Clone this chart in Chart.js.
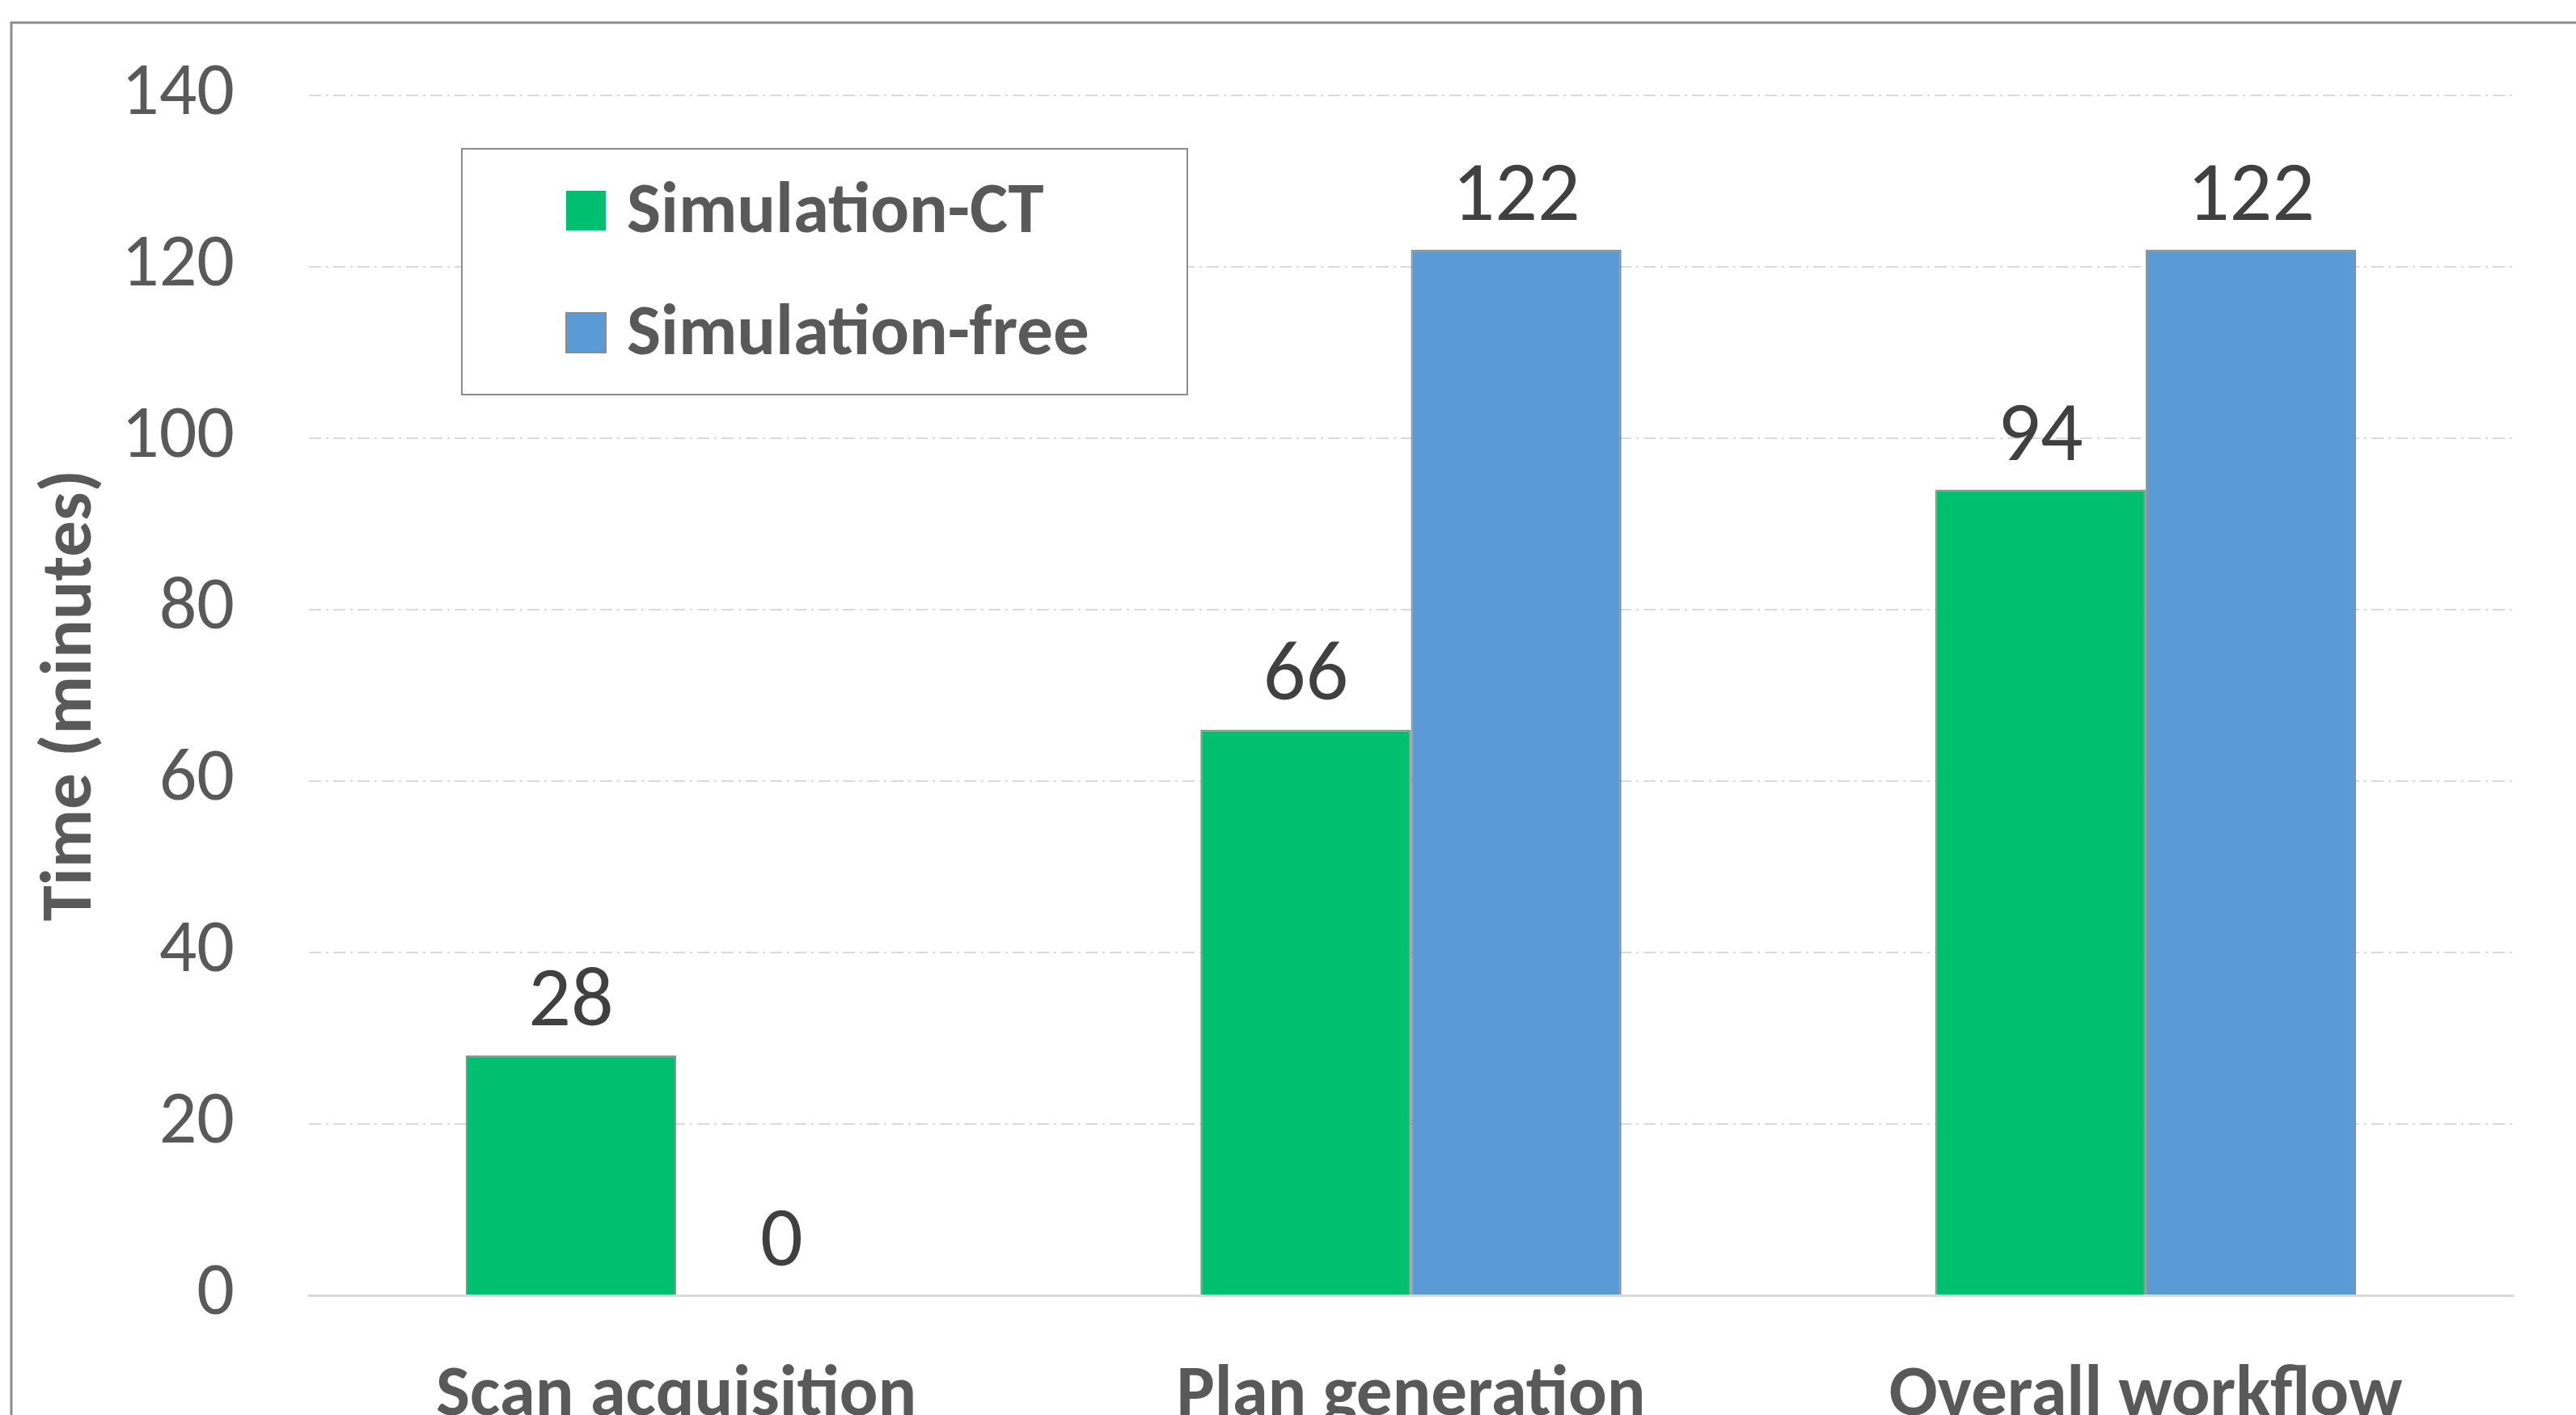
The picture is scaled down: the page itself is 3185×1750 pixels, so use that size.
<!DOCTYPE html>
<html>
<head>
<meta charset="utf-8">
<script src="https://cdn.jsdelivr.net/npm/chart.js@4.4.0/dist/chart.umd.min.js"></script>
<style>
  html, body { margin: 0; padding: 0; background: #fff; overflow: hidden; }
  #wrap { width: 3185px; height: 1750px; position: relative; }
</style>
</head>
<body>
<div id="wrap"><canvas id="myBarChart"></canvas></div>
<script>
// data
var categories = ['Scan acquisition', 'Plan generation', 'Overall workflow'];
var seriesNames = ['Simulation-CT', 'Simulation-free'];
var simCT = [28, 66, 94];
var simFree = [0, 122, 122];
var yTicks = [0, 20, 40, 60, 80, 100, 120, 140];
var yTitle = 'Time (minutes)';

var FONT = 'Carlito, Lato, sans-serif';
var GREY = '#595959';

// outer frame of the original figure (only top and left edges are visible)
var framePlugin = {
    id: 'frame',
    beforeDraw: function(chart) {
        var c = chart.ctx;
        c.save();
        c.strokeStyle = '#8c8c8c';
        c.lineWidth = 3;
        c.beginPath();
        c.moveTo(14, chart.height + 5);
        c.lineTo(14, 28);
        c.lineTo(chart.width + 5, 28);
        c.stroke();
        c.restore();
    }
};

// value labels above each bar
var valueLabels = {
    id: 'valueLabels',
    afterDatasetsDraw: function(chart) {
        var c = chart.ctx;
        c.save();
        c.font = '104px ' + FONT;
        c.fillStyle = '#404040';
        c.textAlign = 'center';
        c.textBaseline = 'alphabetic';
        chart.data.datasets.forEach(function(ds, i) {
            var meta = chart.getDatasetMeta(i);
            meta.data.forEach(function(bar, j) {
                c.fillText(String(ds.data[j]), bar.x, bar.y - 37);
            });
        });
        c.restore();
    }
};

// boxed legend sitting inside the plot, like the Excel original
var boxLegend = {
    id: 'boxLegend',
    afterDraw: function(chart) {
        var c = chart.ctx;
        c.save();
        c.fillStyle = '#ffffff';
        c.fillRect(571, 184, 897, 304);
        c.strokeStyle = '#8c8c8c';
        c.lineWidth = 2;
        c.strokeRect(571, 184, 897, 304);
        c.font = 'bold 89px ' + FONT;
        c.textBaseline = 'alphabetic';
        c.textAlign = 'left';
        chart.data.datasets.forEach(function(ds, i) {
            var top = 236 + i * 151;
            c.fillStyle = ds.backgroundColor;
            c.fillRect(700, top, 49, 49);
            if (i == 1) {
                c.strokeStyle = '#8c8c8c';
                c.lineWidth = 2;
                c.strokeRect(700, top, 49, 49);
            }
            c.fillStyle = GREY;
            c.fillText(ds.label, 775, top + 51);
        });
        c.restore();
    }
};

var ctx = document.getElementById('myBarChart').getContext('2d');

var data = {
    labels: categories,
    datasets: [{
        label: seriesNames[0],
        data: simCT,
        backgroundColor: '#00BF6F',
        borderColor: '#8c8c8c',
        borderWidth: 2
    }, {
        label: seriesNames[1],
        data: simFree,
        backgroundColor: '#5B9BD5',
        borderColor: '#8c8c8c',
        borderWidth: 2
    }]
};

var options = {
    responsive: true,
    maintainAspectRatio: false,
    animation: false,
    devicePixelRatio: 1,
    layout: { padding: { left: 0, right: 78, top: 118, bottom: 0 } },
    plugins: {
        legend: { display: false },
        tooltip: { enabled: false }
    },
    datasets: {
        bar: { categoryPercentage: 0.573, barPercentage: 1.0 }
    },
    scales: {
        x: {
            grid: { display: false },
            border: { display: true, color: '#d9d9d9', width: 3 },
            ticks: {
                color: GREY,
                font: { family: FONT, size: 89, weight: 'bold' },
                padding: 64,
                maxRotation: 0
            },
            afterFit: function(scale) { scale.height = 148; }
        },
        y: {
            min: 0,
            max: 140,
            afterBuildTicks: function(scale) {
                scale.ticks = yTicks.map(function(v) { return { value: v }; });
            },
            // invisible tick marks push the labels away from the plot
            grid: { color: '#d9d9d9', lineWidth: 2, drawTicks: true, tickLength: 92, tickColor: 'rgba(0,0,0,0)' },
            border: { display: false, dash: [15, 6, 3, 6] },
            ticks: {
                color: GREY,
                font: { family: FONT, size: 92 },
                padding: 0
            },
            title: {
                display: true,
                text: yTitle,
                color: GREY,
                font: { family: FONT, size: 89, weight: 'bold' },
                padding: { top: 36, bottom: 0 }
            },
            afterFit: function(scale) { scale.width = 382; }
        }
    }
};

var myBarChart = new Chart(ctx, {
    type: 'bar',
    data: data,
    options: options,
    plugins: [framePlugin, valueLabels, boxLegend]
});
</script>
</body>
</html>
